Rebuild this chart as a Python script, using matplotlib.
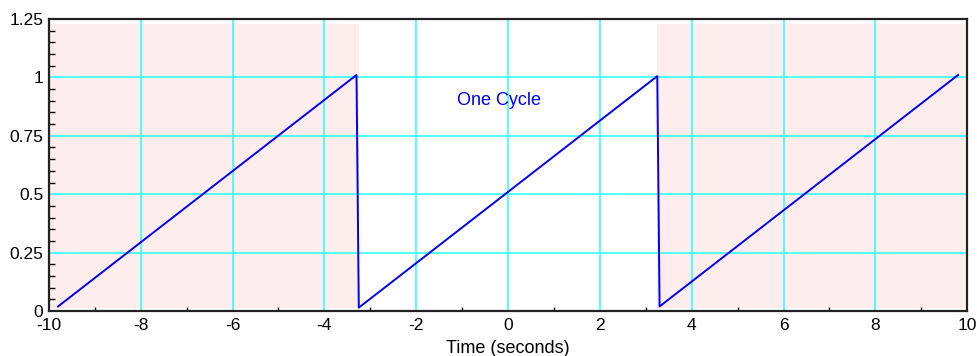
import matplotlib
matplotlib.use('Agg')
import matplotlib.pyplot as plt
from matplotlib.ticker import MultipleLocator

plt.rcParams['font.family'] = ['Liberation Sans', 'DejaVu Sans']
plt.rcParams['axes.unicode_minus'] = False

# Sawtooth vertices (time, value)
timeVals = [-9.8, -3.3, -3.25, 3.25, 3.3, 9.8]
waveVals = [0.02, 1.01, 0.015, 1.005, 0.02, 1.01]

# Shaded (outside one cycle) intervals
shadeStarts = [-10, 3.25]
shadeEnds = [-3.25, 9.95]

xTicks = [-10, -8, -6, -4, -2, 0, 2, 4, 6, 8, 10]
yTicks = [0, 0.25, 0.5, 0.75, 1, 1.25]
yTickLabels = ['0', '0.25', '0.5', '0.75', '1', '1.25']


def main():
    fig = plt.figure(figsize=(9.77, 3.56), dpi=100)
    ax = fig.add_axes([0.050, 0.126, 0.940, 0.821])

    # Pink background outside the cycle
    for s, e in zip(shadeStarts, shadeEnds):
        ax.axvspan(s, e, ymin=0.01, ymax=0.982, color='#fdeded', lw=0, zorder=0)

    # Grid lines
    for xv in xTicks[1:-1]:
        ax.axvline(xv, color='#33ffff', lw=1.2, zorder=1)
    for yv in yTicks[1:-1]:
        ax.axhline(yv, color='#33ffff', lw=1.2, zorder=1)

    ax.plot(timeVals, waveVals, color='#0000ee', lw=1.4, zorder=3)
    ax.text(-0.2, 0.90, 'One Cycle', color='#0000ee', fontsize=13,
            ha='center', va='center', zorder=4)

    ax.set_xlim(-10, 10)
    ax.set_ylim(0, 1.25)
    ax.set_xticks(xTicks)
    ax.set_yticks(yTicks)
    ax.set_yticklabels(yTickLabels)
    ax.xaxis.set_minor_locator(MultipleLocator(1))
    ax.yaxis.set_minor_locator(MultipleLocator(0.05))
    ax.tick_params(which='both', direction='in', top=False, right=False,
                   labelsize=12.5)
    ax.tick_params(axis='x', pad=5)
    ax.tick_params(axis='y', pad=4)
    ax.tick_params(which='major', length=0)
    ax.tick_params(axis='x', which='minor', length=3, width=1)
    ax.tick_params(axis='y', which='minor', length=4, width=1)

    for sp in ax.spines.values():
        sp.set_linewidth(1.6)
        sp.set_color('#222222')

    ax.set_xlabel('Time (seconds)', fontsize=13, labelpad=5)

    fig.savefig('out.png', dpi=100)


if __name__ == '__main__':
    main()
